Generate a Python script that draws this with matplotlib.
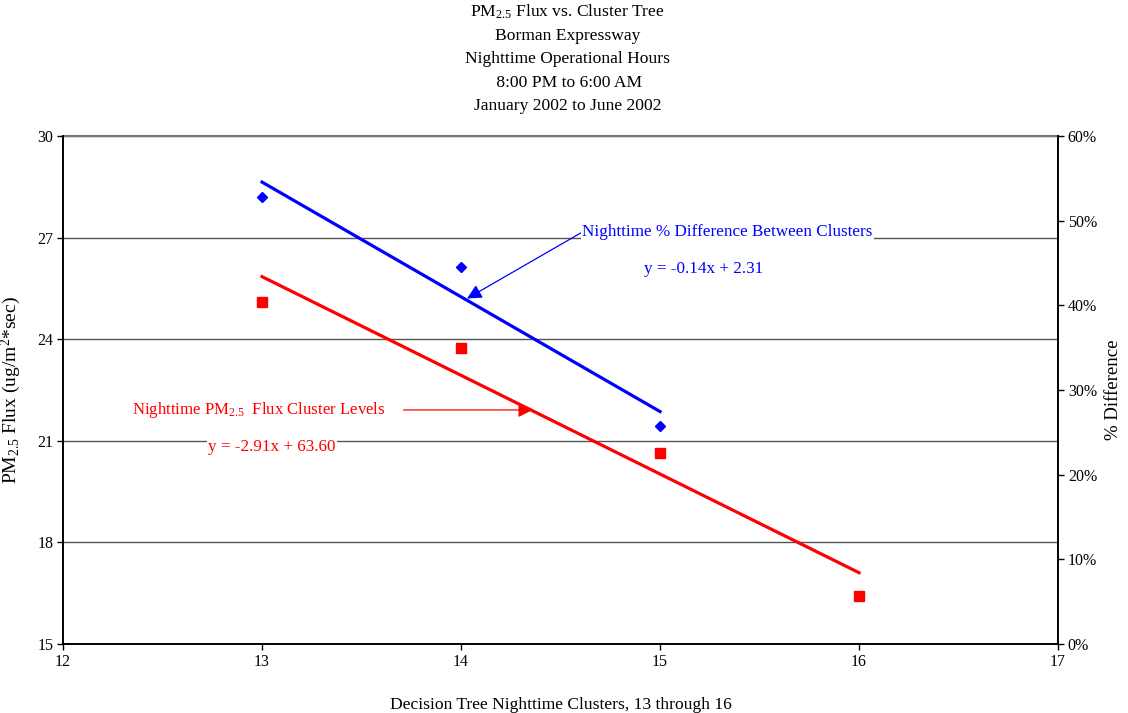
import numpy as np
import matplotlib
matplotlib.use("Agg")
import matplotlib.pyplot as plt
from matplotlib.ticker import PercentFormatter

plt.rcParams["font.family"] = ["Liberation Serif", "DejaVu Serif"]
plt.rcParams["mathtext.fontset"] = "custom"
plt.rcParams["mathtext.rm"] = "Liberation Serif"
plt.rcParams["mathtext.it"] = "Liberation Serif"
plt.rcParams["mathtext.bf"] = "Liberation Serif"

# data
clusters = [13, 14, 15, 16]
flux_levels = [25.10, 23.74, 20.64, 16.42]          # ug/m^2*sec, left axis
diff_clusters = [13, 14, 15]
pct_difference = [0.528, 0.445, 0.257]              # right axis (fraction)

title_lines = ["PM$_{2.5}$ Flux vs. Cluster Tree", "Borman Expressway",
               "Nighttime Operational Hours", " 8:00 PM to 6:00 AM",
               "January 2002 to June 2002"]

fig = plt.figure(figsize=(11.28, 7.13), dpi=100)
ax = fig.add_axes([0.0559, 0.0968, 0.8821, 0.7125])
ax2 = ax.twinx()

# trend lines
c1 = np.polyfit(clusters, flux_levels, 1)
xr = np.array([clusters[0], clusters[-1]])
ax.plot(xr, np.polyval(c1, xr), color="red", lw=2.3, zorder=3)
ax.plot(clusters, flux_levels, "s", color="red", ms=6.5, zorder=4)

c2 = np.polyfit(diff_clusters, pct_difference, 1)
xb = np.array([diff_clusters[0], diff_clusters[-1]])
ax2.plot(xb, np.polyval(c2, xb), color="blue", lw=2.3, zorder=3)
ax2.plot(diff_clusters, pct_difference, "D", color="blue", ms=5, zorder=4)

ax.set_xlim(12, 17)
ax.set_ylim(15, 30)
ax.set_xticks(range(12, 18))
ax.set_yticks(range(15, 31, 3))
ax2.set_ylim(0, 0.6)
ax2.set_yticks(np.arange(0, 0.61, 0.1))
ax2.yaxis.set_major_formatter(PercentFormatter(1.0, decimals=0))

for a in (ax, ax2):
    a.tick_params(labelsize=11.5, length=4, width=1, direction="out", pad=3)
    a.spines["top"].set_visible(False)
    for s in ("left", "right", "bottom"):
        a.spines[s].set_linewidth(1.2)
ax.grid(axis="y", color="#555555", lw=1.0)
ax.axhline(30, color="#777777", lw=1.5, clip_on=False)
ax.set_axisbelow(True)

ax.set_xlabel("Decision Tree Nighttime Clusters, 13 through 16", fontsize=12.6, labelpad=20)
ax.set_ylabel("PM$_{2.5}$ Flux (ug/m$^{2}$*sec)", fontsize=14, labelpad=10)
ax2.set_ylabel("% Difference", fontsize=13.5, labelpad=6)

fig.text(0.503, 0.997, "\n".join(title_lines), ha="center", va="top",
         fontsize=12.6, linespacing=1.62)

# annotations
bbox = dict(facecolor="white", edgecolor="none", pad=1)
ax2.annotate("Nighttime % Difference Between Clusters", xy=(14.03, 0.408),
             xytext=(14.61, 0.4866), color="blue", fontsize=12.3, ha="left", va="center",
             bbox=bbox,
             arrowprops=dict(arrowstyle="-|>", color="blue", lw=0.9, relpos=(0, 0.5),
                             mutation_scale=22, shrinkA=0, shrinkB=0))
ax2.text(15.22, 0.443, "y = -0.14x + 2.31", color="blue", fontsize=12.3,
         ha="center", va="center", bbox=bbox)

ax.annotate("Nighttime PM$_{2.5}$  Flux Cluster Levels", xy=(14.36, 21.91),
            xytext=(13.62, 21.91), color="red", fontsize=12.1, ha="right", va="center",
            bbox=bbox,
            arrowprops=dict(arrowstyle="-|>", color="red", lw=0.9, relpos=(1, 0.5),
                            mutation_scale=22, shrinkA=12, shrinkB=0))
ax.text(13.05, 20.82, "y = -2.91x + 63.60", color="red", fontsize=12.3,
        ha="center", va="center", bbox=bbox)

fig.savefig("out.png", dpi=100)
